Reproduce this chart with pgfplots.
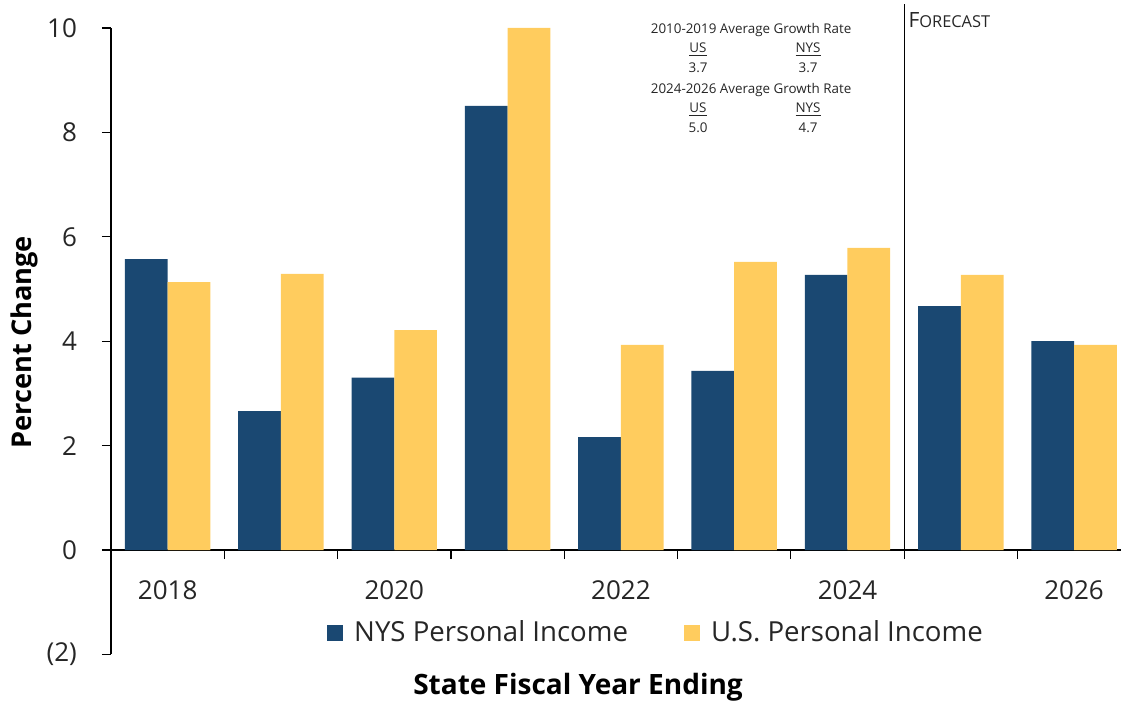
\documentclass[border=0pt]{standalone}
\usepackage{fontspec}
\setmainfont{Open Sans}
\usepackage{pgfplots}
\pgfplotsset{compat=1.18}
\definecolor{nys}{HTML}{1A4872}
\definecolor{us}{HTML}{FFCC5E}
\definecolor{txt}{HTML}{262626}
\begin{document}
\begin{tikzpicture}
\begin{axis}[
  scale only axis, width=505pt, height=313.2pt,
  xmin=-0.5, xmax=8.414, ymin=-2, ymax=10,
  clip=false,
  axis x line=middle, axis y line=left,
  axis line style={-, black, line width=0.6pt},
  ybar=0pt, bar width=0.377,
  xtick={0.5,1.5,...,7.5}, xticklabels={,,,,,,,,},
  extra x ticks={0,2,4,6,8},
  extra x tick labels={2018,2020,2022,2024,2026},
  extra x tick style={major tick length=0pt, tick label style={yshift=-12pt}},
  ytick={-2,0,2,4,6,8,10},
  yticklabels={(2),0,2,4,6,8,10},
  tick align=outside, major tick length=4.5pt,
  tick style={black, line width=0.6pt},
  y tick label style={xshift=-9pt},
  tick label style={font=\fontsize{13}{15}\selectfont, text=txt},
  legend style={at={(axis cs:4.319,-1.59)}, anchor=center, draw=none, fill=none,
    legend columns=2, font=\fontsize{13.8}{16}\selectfont, text=txt,
    /tikz/every odd column/.append style={column sep=3.5pt},
    /tikz/every even column/.append style={column sep=26pt}},
  legend image code/.code={\fill[#1] (0pt,-4pt) rectangle (8pt,4pt);},
]
\addplot[fill=nys, draw=none] coordinates {(0,5.57) (1,2.66) (2,3.30) (3,8.51) (4,2.16) (5,3.43) (6,5.27) (7,4.67) (8,4.00)};
\addplot[fill=us, draw=none] coordinates {(0,5.13) (1,5.29) (2,4.21) (3,10.0) (4,3.93) (5,5.52) (6,5.79) (7,5.27) (8,3.93)};
\legend{NYS Personal Income, U.S. Personal Income}
\draw[black, line width=0.6pt] (axis cs:6.5,0) -- (axis cs:6.5,10.46);
\node[anchor=west, text=txt, inner sep=0pt] at (axis cs:6.535,10.15) {\fontsize{10.5}{12}\selectfont F\fontsize{8.2}{9}\selectfont ORECAST};
\node[rotate=90, font=\bfseries\fontsize{13.6}{15}\selectfont, text=black] at (axis cs:-1.268,3.98) {Percent Change};
\node[font=\bfseries\fontsize{14}{16}\selectfont, text=black] at (axis cs:3.622,-2.62) {State Fiscal Year Ending};
\begin{scope}[every node/.style={font=\fontsize{6.7}{8}\selectfont, text=txt, inner sep=0pt}]
\node at (axis cs:5.149,9.96) {2010-2019 Average Growth Rate};
\node at (axis cs:4.681,9.58) {\underline{US}};
\node at (axis cs:5.652,9.58) {\underline{NYS}};
\node at (axis cs:4.681,9.23) {3.7};
\node at (axis cs:5.652,9.23) {3.7};
\node at (axis cs:5.149,8.81) {2024-2026 Average Growth Rate};
\node at (axis cs:4.681,8.43) {\underline{US}};
\node at (axis cs:5.652,8.43) {\underline{NYS}};
\node at (axis cs:4.681,8.08) {5.0};
\node at (axis cs:5.652,8.08) {4.7};
\end{scope}
\end{axis}
\pgfresetboundingbox
\useasboundingbox (-55.5pt,-24.3pt) rectangle (505pt,327.2pt);
\end{tikzpicture}
\end{document}
